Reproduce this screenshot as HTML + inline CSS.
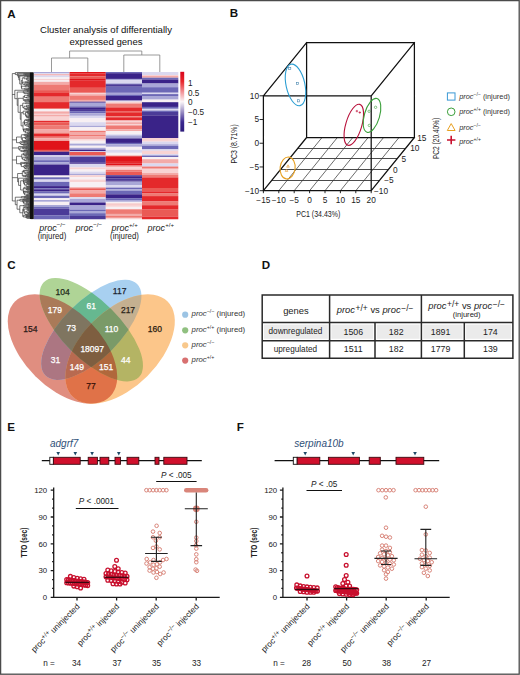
<!DOCTYPE html>
<html><head><meta charset="utf-8"><title>Figure</title>
<style>
html,body{margin:0;padding:0;background:#fff;}
body{width:520px;height:675px;overflow:hidden;}
svg{display:block;font-family:"Liberation Sans",sans-serif;}
</style></head><body>
<svg width="520" height="675" viewBox="0 0 520 675" font-family="Liberation Sans, sans-serif">
<rect width="520" height="675" fill="#fff"/>
<rect x="0.6" y="0.6" width="518.6" height="673.6" fill="none" stroke="#4a4a4a" stroke-width="1.3"/>
<text x="7.3" y="17.9" font-size="11.6" font-weight="bold" fill="#111">A</text>
<text x="229.8" y="17.3" font-size="11.6" font-weight="bold" fill="#111">B</text>
<text x="7.3" y="269.2" font-size="11.6" font-weight="bold" fill="#111">C</text>
<text x="261.8" y="269.0" font-size="11.6" font-weight="bold" fill="#111">D</text>
<text x="7.3" y="431.3" font-size="11.6" font-weight="bold" fill="#111">E</text>
<text x="236.8" y="431.3" font-size="11.6" font-weight="bold" fill="#111">F</text>
<text x="106" y="32.8" font-size="9.6" text-anchor="middle" fill="#111">Cluster analysis of differentially</text>
<text x="106" y="44.5" font-size="9.6" text-anchor="middle" fill="#111">expressed genes</text>
<path d="M69.6 58V51H141.8V55 M51.5 72V58H87.8V72 M123.8 72V55H159.8V72" stroke="#808080" stroke-width="0.8" fill="none"/>
<rect x="33.6" y="72.0" width="36.0" height="1.15" fill="#a9a7d7"/>
<rect x="33.6" y="73.1" width="36.0" height="1.15" fill="#dad8ef"/>
<rect x="33.6" y="74.2" width="36.0" height="1.35" fill="#f3aaa8"/>
<rect x="33.6" y="75.5" width="36.0" height="1.85" fill="#dad8ef"/>
<rect x="33.6" y="77.3" width="36.0" height="1.75" fill="#f7f0f3"/>
<rect x="33.6" y="79.0" width="36.0" height="1.45" fill="#f8d3d3"/>
<rect x="33.6" y="80.4" width="36.0" height="1.45" fill="#f7f0f3"/>
<rect x="33.6" y="81.8" width="36.0" height="2.75" fill="#f3aaa8"/>
<rect x="33.6" y="84.5" width="36.0" height="5.65" fill="#ee7a74"/>
<rect x="33.6" y="90.1" width="36.0" height="2.85" fill="#ea5a55"/>
<rect x="33.6" y="92.9" width="36.0" height="3.85" fill="#e4292b"/>
<rect x="33.6" y="96.7" width="36.0" height="5.45" fill="#ee7a74"/>
<rect x="33.6" y="102.1" width="36.0" height="5.95" fill="#e4292b"/>
<rect x="33.6" y="108.0" width="36.0" height="1.05" fill="#ee7a74"/>
<rect x="33.6" y="109.0" width="36.0" height="2.45" fill="#f7f0f3"/>
<rect x="33.6" y="111.4" width="36.0" height="2.45" fill="#f3aaa8"/>
<rect x="33.6" y="113.8" width="36.0" height="1.15" fill="#f8d3d3"/>
<rect x="33.6" y="114.9" width="36.0" height="1.75" fill="#f3aaa8"/>
<rect x="33.6" y="116.6" width="36.0" height="4.25" fill="#f8d3d3"/>
<rect x="33.6" y="120.8" width="36.0" height="1.45" fill="#e4292b"/>
<rect x="33.6" y="122.2" width="36.0" height="3.45" fill="#ea5a55"/>
<rect x="33.6" y="125.6" width="36.0" height="3.55" fill="#ee7a74"/>
<rect x="33.6" y="129.1" width="36.0" height="3.45" fill="#f3aaa8"/>
<rect x="33.6" y="132.5" width="36.0" height="1.45" fill="#ee7a74"/>
<rect x="33.6" y="133.9" width="36.0" height="2.85" fill="#e4292b"/>
<rect x="33.6" y="136.7" width="36.0" height="1.75" fill="#ee7a74"/>
<rect x="33.6" y="138.4" width="36.0" height="2.55" fill="#f3aaa8"/>
<rect x="33.6" y="140.9" width="36.0" height="9.05" fill="#e0141a"/>
<rect x="33.6" y="149.9" width="36.0" height="1.85" fill="#ea5a55"/>
<rect x="33.6" y="151.7" width="36.0" height="3.65" fill="#3a2388"/>
<rect x="33.6" y="155.3" width="36.0" height="1.45" fill="#dad8ef"/>
<rect x="33.6" y="156.7" width="36.0" height="3.55" fill="#a9a7d7"/>
<rect x="33.6" y="160.2" width="36.0" height="2.25" fill="#6c68b6"/>
<rect x="33.6" y="162.4" width="36.0" height="2.15" fill="#a9a7d7"/>
<rect x="33.6" y="164.5" width="36.0" height="11.05" fill="#3a2388"/>
<rect x="33.6" y="175.5" width="36.0" height="1.85" fill="#f7f0f3"/>
<rect x="33.6" y="177.3" width="36.0" height="2.25" fill="#6c68b6"/>
<rect x="33.6" y="179.5" width="36.0" height="2.45" fill="#dad8ef"/>
<rect x="33.6" y="181.9" width="36.0" height="4.25" fill="#6c68b6"/>
<rect x="33.6" y="186.1" width="36.0" height="2.25" fill="#3a2388"/>
<rect x="33.6" y="188.3" width="36.0" height="1.05" fill="#6c68b6"/>
<rect x="33.6" y="189.3" width="36.0" height="2.25" fill="#3a2388"/>
<rect x="33.6" y="191.5" width="36.0" height="2.15" fill="#6c68b6"/>
<rect x="33.6" y="193.6" width="36.0" height="2.15" fill="#dad8ef"/>
<rect x="33.6" y="195.7" width="36.0" height="2.55" fill="#6c68b6"/>
<rect x="33.6" y="198.2" width="36.0" height="1.85" fill="#f7f0f3"/>
<rect x="33.6" y="200.0" width="36.0" height="1.85" fill="#a9a7d7"/>
<rect x="33.6" y="201.8" width="36.0" height="3.25" fill="#f7f0f3"/>
<rect x="33.6" y="205.0" width="36.0" height="1.85" fill="#a9a7d7"/>
<rect x="33.6" y="206.8" width="36.0" height="1.85" fill="#6c68b6"/>
<rect x="33.6" y="208.6" width="36.0" height="6.75" fill="#4b3b98"/>
<rect x="33.6" y="215.3" width="36.0" height="3.95" fill="#6c68b6"/>
<rect x="69.6" y="72.0" width="36.2" height="1.65" fill="#e0141a"/>
<rect x="69.6" y="73.6" width="36.2" height="2.85" fill="#e4292b"/>
<rect x="69.6" y="76.4" width="36.2" height="2.55" fill="#ea5a55"/>
<rect x="69.6" y="78.9" width="36.2" height="1.85" fill="#e0141a"/>
<rect x="69.6" y="80.7" width="36.2" height="7.15" fill="#e4292b"/>
<rect x="69.6" y="87.8" width="36.2" height="5.05" fill="#ea5a55"/>
<rect x="69.6" y="92.8" width="36.2" height="1.45" fill="#f8d3d3"/>
<rect x="69.6" y="94.2" width="36.2" height="1.45" fill="#f3aaa8"/>
<rect x="69.6" y="95.6" width="36.2" height="4.35" fill="#ee7a74"/>
<rect x="69.6" y="99.9" width="36.2" height="1.85" fill="#f3aaa8"/>
<rect x="69.6" y="101.7" width="36.2" height="1.05" fill="#3a2388"/>
<rect x="69.6" y="102.7" width="36.2" height="3.65" fill="#a9a7d7"/>
<rect x="69.6" y="106.3" width="36.2" height="1.15" fill="#6c68b6"/>
<rect x="69.6" y="107.4" width="36.2" height="2.45" fill="#3a2388"/>
<rect x="69.6" y="109.8" width="36.2" height="1.45" fill="#4b3b98"/>
<rect x="69.6" y="111.2" width="36.2" height="2.15" fill="#6c68b6"/>
<rect x="69.6" y="113.3" width="36.2" height="2.55" fill="#a9a7d7"/>
<rect x="69.6" y="115.8" width="36.2" height="2.25" fill="#dad8ef"/>
<rect x="69.6" y="118.0" width="36.2" height="4.25" fill="#f7f0f3"/>
<rect x="69.6" y="122.2" width="36.2" height="3.65" fill="#dad8ef"/>
<rect x="69.6" y="125.8" width="36.2" height="1.45" fill="#a9a7d7"/>
<rect x="69.6" y="127.2" width="36.2" height="3.65" fill="#f7f0f3"/>
<rect x="69.6" y="130.8" width="36.2" height="1.85" fill="#ee7a74"/>
<rect x="69.6" y="132.6" width="36.2" height="2.45" fill="#f3aaa8"/>
<rect x="69.6" y="135.0" width="36.2" height="1.55" fill="#ee7a74"/>
<rect x="69.6" y="136.5" width="36.2" height="2.85" fill="#f3aaa8"/>
<rect x="69.6" y="139.3" width="36.2" height="1.45" fill="#f8d3d3"/>
<rect x="69.6" y="140.7" width="36.2" height="2.95" fill="#f7f0f3"/>
<rect x="69.6" y="143.6" width="36.2" height="2.15" fill="#a9a7d7"/>
<rect x="69.6" y="145.7" width="36.2" height="2.15" fill="#f7f0f3"/>
<rect x="69.6" y="147.8" width="36.2" height="1.85" fill="#a9a7d7"/>
<rect x="69.6" y="149.6" width="36.2" height="1.75" fill="#3a2388"/>
<rect x="69.6" y="151.3" width="36.2" height="0.75" fill="#dad8ef"/>
<rect x="69.6" y="152.0" width="36.2" height="3.65" fill="#ea5a55"/>
<rect x="69.6" y="155.6" width="36.2" height="1.15" fill="#a9a7d7"/>
<rect x="69.6" y="156.7" width="36.2" height="5.75" fill="#4b3b98"/>
<rect x="69.6" y="162.4" width="36.2" height="1.45" fill="#3a2388"/>
<rect x="69.6" y="163.8" width="36.2" height="3.65" fill="#dad8ef"/>
<rect x="69.6" y="167.4" width="36.2" height="2.15" fill="#f8d3d3"/>
<rect x="69.6" y="169.5" width="36.2" height="2.15" fill="#f7f0f3"/>
<rect x="69.6" y="171.6" width="36.2" height="2.25" fill="#dad8ef"/>
<rect x="69.6" y="173.8" width="36.2" height="1.45" fill="#a9a7d7"/>
<rect x="69.6" y="175.2" width="36.2" height="2.15" fill="#f8d3d3"/>
<rect x="69.6" y="177.3" width="36.2" height="2.25" fill="#f7f0f3"/>
<rect x="69.6" y="179.5" width="36.2" height="2.85" fill="#f8d3d3"/>
<rect x="69.6" y="182.3" width="36.2" height="4.95" fill="#f7f0f3"/>
<rect x="69.6" y="187.2" width="36.2" height="1.15" fill="#f3aaa8"/>
<rect x="69.6" y="188.3" width="36.2" height="2.15" fill="#ea5a55"/>
<rect x="69.6" y="190.4" width="36.2" height="2.95" fill="#f3aaa8"/>
<rect x="69.6" y="193.3" width="36.2" height="3.95" fill="#ee7a74"/>
<rect x="69.6" y="197.2" width="36.2" height="1.85" fill="#dad8ef"/>
<rect x="69.6" y="199.0" width="36.2" height="3.55" fill="#a9a7d7"/>
<rect x="69.6" y="202.5" width="36.2" height="2.95" fill="#3a2388"/>
<rect x="69.6" y="205.4" width="36.2" height="4.25" fill="#a9a7d7"/>
<rect x="69.6" y="209.6" width="36.2" height="1.45" fill="#6c68b6"/>
<rect x="69.6" y="211.0" width="36.2" height="2.25" fill="#a9a7d7"/>
<rect x="69.6" y="213.2" width="36.2" height="2.85" fill="#6c68b6"/>
<rect x="69.6" y="216.0" width="36.2" height="3.25" fill="#4b3b98"/>
<rect x="105.8" y="72.0" width="36.2" height="1.25" fill="#6c68b6"/>
<rect x="105.8" y="73.2" width="36.2" height="5.75" fill="#3a2388"/>
<rect x="105.8" y="78.9" width="36.2" height="1.45" fill="#a9a7d7"/>
<rect x="105.8" y="80.3" width="36.2" height="2.95" fill="#dad8ef"/>
<rect x="105.8" y="83.2" width="36.2" height="1.05" fill="#a9a7d7"/>
<rect x="105.8" y="84.2" width="36.2" height="2.55" fill="#4b3b98"/>
<rect x="105.8" y="86.7" width="36.2" height="6.15" fill="#6c68b6"/>
<rect x="105.8" y="92.8" width="36.2" height="1.85" fill="#a9a7d7"/>
<rect x="105.8" y="94.6" width="36.2" height="1.45" fill="#6c68b6"/>
<rect x="105.8" y="96.0" width="36.2" height="4.65" fill="#3a2388"/>
<rect x="105.8" y="100.6" width="36.2" height="1.15" fill="#dad8ef"/>
<rect x="105.8" y="101.7" width="36.2" height="1.85" fill="#f8d3d3"/>
<rect x="105.8" y="103.5" width="36.2" height="2.85" fill="#ee7a74"/>
<rect x="105.8" y="106.3" width="36.2" height="1.45" fill="#ea5a55"/>
<rect x="105.8" y="107.7" width="36.2" height="3.95" fill="#e4292b"/>
<rect x="105.8" y="111.6" width="36.2" height="1.45" fill="#ea5a55"/>
<rect x="105.8" y="113.0" width="36.2" height="3.25" fill="#e4292b"/>
<rect x="105.8" y="116.2" width="36.2" height="1.15" fill="#ee7a74"/>
<rect x="105.8" y="117.3" width="36.2" height="3.25" fill="#e4292b"/>
<rect x="105.8" y="120.5" width="36.2" height="1.75" fill="#f8d3d3"/>
<rect x="105.8" y="122.2" width="36.2" height="1.85" fill="#f3aaa8"/>
<rect x="105.8" y="124.0" width="36.2" height="1.45" fill="#f8d3d3"/>
<rect x="105.8" y="125.4" width="36.2" height="4.05" fill="#ee7a74"/>
<rect x="105.8" y="129.4" width="36.2" height="1.75" fill="#f3aaa8"/>
<rect x="105.8" y="131.1" width="36.2" height="3.25" fill="#f7f0f3"/>
<rect x="105.8" y="134.3" width="36.2" height="1.15" fill="#dad8ef"/>
<rect x="105.8" y="135.4" width="36.2" height="2.55" fill="#a9a7d7"/>
<rect x="105.8" y="137.9" width="36.2" height="0.75" fill="#6c68b6"/>
<rect x="105.8" y="138.6" width="36.2" height="4.35" fill="#3a2388"/>
<rect x="105.8" y="142.9" width="36.2" height="1.45" fill="#6c68b6"/>
<rect x="105.8" y="144.3" width="36.2" height="2.55" fill="#a9a7d7"/>
<rect x="105.8" y="146.8" width="36.2" height="3.15" fill="#f7f0f3"/>
<rect x="105.8" y="149.9" width="36.2" height="2.95" fill="#dad8ef"/>
<rect x="105.8" y="152.8" width="36.2" height="2.85" fill="#f7f0f3"/>
<rect x="105.8" y="155.6" width="36.2" height="0.75" fill="#ee7a74"/>
<rect x="105.8" y="156.3" width="36.2" height="4.75" fill="#e0141a"/>
<rect x="105.8" y="161.0" width="36.2" height="2.45" fill="#e4292b"/>
<rect x="105.8" y="163.4" width="36.2" height="2.25" fill="#e0141a"/>
<rect x="105.8" y="165.6" width="36.2" height="1.85" fill="#f3aaa8"/>
<rect x="105.8" y="167.4" width="36.2" height="2.45" fill="#f8d3d3"/>
<rect x="105.8" y="169.8" width="36.2" height="1.85" fill="#ee7a74"/>
<rect x="105.8" y="171.6" width="36.2" height="3.65" fill="#ea5a55"/>
<rect x="105.8" y="175.2" width="36.2" height="1.05" fill="#4b3b98"/>
<rect x="105.8" y="176.2" width="36.2" height="2.35" fill="#3a2388"/>
<rect x="105.8" y="178.5" width="36.2" height="1.85" fill="#4b3b98"/>
<rect x="105.8" y="180.3" width="36.2" height="1.35" fill="#3a2388"/>
<rect x="105.8" y="181.6" width="36.2" height="3.55" fill="#a9a7d7"/>
<rect x="105.8" y="185.1" width="36.2" height="2.55" fill="#dad8ef"/>
<rect x="105.8" y="187.6" width="36.2" height="1.75" fill="#6c68b6"/>
<rect x="105.8" y="189.3" width="36.2" height="1.55" fill="#a9a7d7"/>
<rect x="105.8" y="190.8" width="36.2" height="3.55" fill="#6c68b6"/>
<rect x="105.8" y="194.3" width="36.2" height="3.95" fill="#3a2388"/>
<rect x="105.8" y="198.2" width="36.2" height="1.85" fill="#6c68b6"/>
<rect x="105.8" y="200.0" width="36.2" height="1.85" fill="#a9a7d7"/>
<rect x="105.8" y="201.8" width="36.2" height="1.85" fill="#f7f0f3"/>
<rect x="105.8" y="203.6" width="36.2" height="1.05" fill="#f3aaa8"/>
<rect x="105.8" y="204.6" width="36.2" height="2.25" fill="#f8d3d3"/>
<rect x="105.8" y="206.8" width="36.2" height="2.55" fill="#f7f0f3"/>
<rect x="105.8" y="209.3" width="36.2" height="4.65" fill="#ee7a74"/>
<rect x="105.8" y="213.9" width="36.2" height="2.15" fill="#f3aaa8"/>
<rect x="105.8" y="216.0" width="36.2" height="1.85" fill="#ee7a74"/>
<rect x="105.8" y="217.8" width="36.2" height="1.45" fill="#f8d3d3"/>
<rect x="142.0" y="72.0" width="36.3" height="3.15" fill="#dad8ef"/>
<rect x="142.0" y="75.1" width="36.3" height="0.75" fill="#f8d3d3"/>
<rect x="142.0" y="75.8" width="36.3" height="1.95" fill="#f3aaa8"/>
<rect x="142.0" y="77.7" width="36.3" height="1.85" fill="#6c68b6"/>
<rect x="142.0" y="79.5" width="36.3" height="4.05" fill="#3a2388"/>
<rect x="142.0" y="83.5" width="36.3" height="3.75" fill="#a9a7d7"/>
<rect x="142.0" y="87.2" width="36.3" height="5.55" fill="#6c68b6"/>
<rect x="142.0" y="92.7" width="36.3" height="1.45" fill="#dad8ef"/>
<rect x="142.0" y="94.1" width="36.3" height="1.95" fill="#6c68b6"/>
<rect x="142.0" y="96.0" width="36.3" height="3.65" fill="#a9a7d7"/>
<rect x="142.0" y="99.6" width="36.3" height="2.65" fill="#f7f0f3"/>
<rect x="142.0" y="102.2" width="36.3" height="4.75" fill="#3a2388"/>
<rect x="142.0" y="106.9" width="36.3" height="1.85" fill="#6c68b6"/>
<rect x="142.0" y="108.7" width="36.3" height="0.45" fill="#a9a7d7"/>
<rect x="142.0" y="109.1" width="36.3" height="1.55" fill="#dad8ef"/>
<rect x="142.0" y="110.6" width="36.3" height="1.45" fill="#6c68b6"/>
<rect x="142.0" y="112.0" width="36.3" height="3.35" fill="#4b3b98"/>
<rect x="142.0" y="115.3" width="36.3" height="22.75" fill="#3a2388"/>
<rect x="142.0" y="138.0" width="36.3" height="3.65" fill="#f8d3d3"/>
<rect x="142.0" y="141.6" width="36.3" height="2.65" fill="#dad8ef"/>
<rect x="142.0" y="144.2" width="36.3" height="1.85" fill="#a9a7d7"/>
<rect x="142.0" y="146.0" width="36.3" height="3.35" fill="#6c68b6"/>
<rect x="142.0" y="149.3" width="36.3" height="1.55" fill="#dad8ef"/>
<rect x="142.0" y="150.8" width="36.3" height="3.25" fill="#f8d3d3"/>
<rect x="142.0" y="154.0" width="36.3" height="1.55" fill="#dad8ef"/>
<rect x="142.0" y="155.5" width="36.3" height="1.55" fill="#6c68b6"/>
<rect x="142.0" y="157.0" width="36.3" height="2.25" fill="#f7f0f3"/>
<rect x="142.0" y="159.2" width="36.3" height="4.35" fill="#f3aaa8"/>
<rect x="142.0" y="163.5" width="36.3" height="3.05" fill="#dad8ef"/>
<rect x="142.0" y="166.5" width="36.3" height="2.25" fill="#ee7a74"/>
<rect x="142.0" y="168.7" width="36.3" height="4.35" fill="#f8d3d3"/>
<rect x="142.0" y="173.0" width="36.3" height="1.95" fill="#f3aaa8"/>
<rect x="142.0" y="174.9" width="36.3" height="2.55" fill="#ee7a74"/>
<rect x="142.0" y="177.4" width="36.3" height="10.65" fill="#e4292b"/>
<rect x="142.0" y="188.0" width="36.3" height="3.35" fill="#ea5a55"/>
<rect x="142.0" y="191.3" width="36.3" height="2.25" fill="#e4292b"/>
<rect x="142.0" y="193.5" width="36.3" height="2.65" fill="#ee7a74"/>
<rect x="142.0" y="196.1" width="36.3" height="5.45" fill="#e4292b"/>
<rect x="142.0" y="201.5" width="36.3" height="3.75" fill="#ee7a74"/>
<rect x="142.0" y="205.2" width="36.3" height="4.45" fill="#e4292b"/>
<rect x="142.0" y="209.6" width="36.3" height="6.95" fill="#ea5a55"/>
<rect x="142.0" y="216.5" width="36.3" height="2.75" fill="#e4292b"/>
<path d="M33.30 74.30H25.34V74.87H33.30 M33.30 73.73H23.69V74.58H25.34 M33.30 76.58H26.98V77.15H33.30 M33.30 77.72H30.39V78.30H33.30 M33.30 79.44H30.60V80.01H33.30 M33.30 80.58H29.87V81.15H33.30 M30.60 79.72H28.64V80.86H29.87 M33.30 78.87H26.97V80.29H28.64 M30.39 78.01H26.81V79.58H26.97 M26.98 76.87H24.07V78.79H26.81 M33.30 82.29H26.98V82.86H33.30 M33.30 81.72H25.20V82.58H26.98 M33.30 83.43H28.96V84.00H33.30 M33.30 84.58H26.24V85.15H33.30 M28.96 83.72H24.25V84.86H26.24 M25.20 82.15H22.74V84.29H24.25 M24.07 77.83H22.30V83.22H22.74 M33.30 86.86H29.27V87.43H33.30 M33.30 86.29H28.48V87.15H29.27 M33.30 85.72H25.13V86.72H28.48 M33.30 88.00H28.37V88.57H33.30 M33.30 89.14H26.63V89.71H33.30 M28.37 88.29H24.64V89.43H26.63 M25.13 86.22H21.59V88.86H24.64 M22.30 80.53H21.30V87.54H21.59 M33.30 76.01H19.76V84.03H21.30 M33.30 75.44H18.93V80.02H19.76 M23.69 74.16H18.40V77.73H18.93 M33.30 73.16H17.38V75.94H18.40 M33.30 72.59H15.30V74.55H17.38 M12.3 73.57H15.3 M33.30 90.85H27.09V91.41H33.30 M33.30 91.97H29.64V92.54H33.30 M33.30 93.67H29.14V94.23H33.30 M33.30 93.10H27.86V93.95H29.14 M29.64 92.26H24.31V93.53H27.86 M27.09 91.13H23.30V92.89H24.31 M33.30 95.92H29.46V96.49H33.30 M33.30 95.36H27.96V96.21H29.46 M33.30 94.79H27.33V95.78H27.96 M33.30 98.18H30.62V98.74H33.30 M33.30 97.62H29.85V98.46H30.62 M33.30 97.05H26.51V98.04H29.85 M27.33 95.29H24.56V97.54H26.51 M33.30 99.31H27.67V99.87H33.30 M33.30 101.56H29.39V102.13H33.30 M33.30 101.00H29.19V101.85H29.39 M33.30 100.44H25.11V101.42H29.19 M27.67 99.59H24.13V100.93H25.11 M24.56 96.42H23.27V100.26H24.13 M33.30 103.82H30.25V104.38H33.30 M33.30 103.26H29.27V104.10H30.25 M33.30 102.69H25.68V103.68H29.27 M33.30 105.51H31.24V106.08H33.30 M33.30 104.95H28.86V105.79H31.24 M33.30 107.21H29.31V107.77H33.30 M33.30 106.64H27.45V107.49H29.31 M28.86 105.37H26.51V107.06H27.45 M33.30 110.03H29.51V110.59H33.30 M33.30 109.46H28.09V110.31H29.51 M33.30 108.90H26.58V109.88H28.09 M33.30 108.33H25.06V109.39H26.58 M26.51 106.22H24.02V108.86H25.06 M25.68 103.19H22.72V107.54H24.02 M33.30 113.41H29.05V113.97H33.30 M33.30 112.85H28.22V113.69H29.05 M33.30 112.28H27.32V113.27H28.22 M33.30 111.72H26.87V112.78H27.32 M33.30 115.10H29.23V115.67H33.30 M33.30 114.54H28.69V115.38H29.23 M33.30 117.92H30.25V118.49H33.30 M33.30 117.36H28.52V118.21H30.25 M33.30 116.79H27.39V117.78H28.52 M33.30 116.23H26.36V117.29H27.39 M28.69 114.96H26.19V116.76H26.36 M26.87 112.25H25.53V115.86H26.19 M33.30 111.15H23.15V114.05H25.53 M33.30 119.05H28.60V119.62H33.30 M33.30 120.74H28.04V121.31H33.30 M33.30 120.18H26.90V121.03H28.04 M28.60 119.33H25.81V120.60H26.90 M33.30 121.87H30.21V122.44H33.30 M33.30 123.00H29.20V123.56H33.30 M30.21 122.15H26.98V123.28H29.20 M33.30 124.13H29.32V124.69H33.30 M33.30 125.82H29.71V126.38H33.30 M33.30 127.51H31.80V128.08H33.30 M33.30 126.95H29.49V127.79H31.80 M29.71 126.10H28.71V127.37H29.49 M33.30 125.26H27.89V126.74H28.71 M29.32 124.41H25.91V126.00H27.89 M26.98 122.72H24.62V125.20H25.91 M25.81 119.97H24.54V123.96H24.62 M33.30 128.64H26.05V129.21H33.30 M33.30 130.90H30.14V131.46H33.30 M33.30 130.33H27.88V131.18H30.14 M33.30 132.03H29.64V132.59H33.30 M33.30 133.15H28.20V133.72H33.30 M29.64 132.31H27.30V133.44H28.20 M27.88 130.76H25.59V132.87H27.30 M33.30 129.77H23.89V131.81H25.59 M26.05 128.92H23.51V130.79H23.89 M24.54 121.96H23.04V129.86H23.51 M23.15 112.60H21.11V125.91H23.04 M22.72 105.36H20.28V119.26H21.11 M23.27 98.34H18.09V112.31H20.28 M23.30 92.01H17.21V105.32H18.09 M33.30 90.28H14.80V98.67H17.21 M12.3 94.47H14.8 M33.30 135.43H26.95V136.00H33.30 M33.30 134.86H25.15V135.71H26.95 M33.30 134.29H24.14V135.29H25.15 M33.30 136.57H26.31V137.14H33.30 M33.30 138.29H29.11V138.86H33.30 M33.30 139.43H27.72V140.00H33.30 M29.11 138.57H26.66V139.71H27.72 M33.30 137.71H25.49V139.14H26.66 M26.31 136.86H24.93V138.43H25.49 M33.30 140.57H23.35V141.14H33.30 M24.93 137.64H22.36V140.86H23.35 M24.14 134.79H21.33V139.25H22.36 M33.30 142.86H26.91V143.43H33.30 M33.30 142.29H24.02V143.14H26.91 M33.30 145.14H28.01V145.71H33.30 M33.30 144.57H23.47V145.43H28.01 M33.30 144.00H22.66V145.00H23.47 M24.02 142.71H20.98V144.50H22.66 M33.30 141.71H20.03V143.61H20.98 M21.33 137.02H16.50V142.66H20.03 M12.3 139.84H16.5 M33.30 146.27H26.38V146.81H33.30 M33.30 148.98H28.26V149.52H33.30 M33.30 148.44H25.80V149.25H28.26 M33.30 147.90H23.28V148.84H25.80 M33.30 147.35H22.40V148.37H23.28 M33.30 150.06H24.04V150.60H33.30 M33.30 151.69H27.05V152.23H33.30 M33.30 151.15H23.70V151.96H27.05 M24.04 150.33H21.52V151.55H23.70 M22.40 147.86H19.97V150.94H21.52 M26.38 146.54H18.70V149.40H19.97 M12.3 147.97H18.7 M33.30 153.35H27.74V153.91H33.30 M33.30 152.78H26.13V153.63H27.74 M33.30 155.60H28.35V156.17H33.30 M33.30 155.04H25.94V155.89H28.35 M33.30 154.48H24.17V155.46H25.94 M26.13 153.21H23.48V154.97H24.17 M33.30 157.30H26.96V157.86H33.30 M33.30 156.73H25.07V157.58H26.96 M33.30 158.99H28.30V159.56H33.30 M33.30 158.43H26.57V159.27H28.30 M33.30 161.25H30.94V161.81H33.30 M33.30 160.69H28.28V161.53H30.94 M33.30 160.12H25.76V161.11H28.28 M26.57 158.85H24.41V160.61H25.76 M25.07 157.16H22.76V159.73H24.41 M23.48 154.09H21.79V158.45H22.76 M33.30 164.07H29.41V164.64H33.30 M33.30 163.51H26.04V164.35H29.41 M33.30 162.94H24.15V163.93H26.04 M33.30 165.20H25.29V165.77H33.30 M33.30 166.90H29.44V167.46H33.30 M33.30 166.33H25.87V167.18H29.44 M33.30 169.15H30.31V169.72H33.30 M33.30 168.59H28.30V169.44H30.31 M33.30 168.02H25.71V169.01H28.30 M25.87 166.75H24.67V168.52H25.71 M25.29 165.48H23.92V167.64H24.67 M24.15 163.44H21.33V166.56H23.92 M33.30 162.38H20.70V165.00H21.33 M21.79 156.27H16.50V163.69H20.70 M12.3 159.98H16.5 M33.30 171.41H29.21V171.98H33.30 M33.30 172.54H28.32V173.11H33.30 M29.21 171.70H27.66V172.83H28.32 M33.30 174.24H28.37V174.80H33.30 M33.30 173.67H26.70V174.52H28.37 M27.66 172.26H25.69V174.10H26.70 M33.30 170.85H24.23V173.18H25.69 M33.30 170.28H23.50V172.01H24.23 M33.30 177.07H28.79V177.63H33.30 M33.30 176.50H27.33V177.35H28.79 M33.30 175.93H25.33V176.92H27.33 M33.30 175.37H23.25V176.43H25.33 M23.50 171.15H22.34V175.90H23.25 M33.30 179.33H27.61V179.89H33.30 M33.30 178.76H25.83V179.61H27.61 M33.30 181.02H27.44V181.59H33.30 M33.30 180.46H24.59V181.30H27.44 M33.30 182.15H26.24V182.72H33.30 M33.30 184.98H30.96V185.54H33.30 M33.30 184.41H28.81V185.26H30.96 M33.30 183.85H27.91V184.84H28.81 M33.30 183.28H27.54V184.34H27.91 M33.30 186.11H27.29V186.67H33.30 M27.54 183.81H26.22V186.39H27.29 M26.24 182.43H24.52V185.10H26.22 M24.59 180.88H23.68V183.77H24.52 M25.83 179.18H23.43V182.32H23.68 M33.30 187.80H27.21V188.37H33.30 M33.30 190.07H30.62V190.63H33.30 M33.30 189.50H27.61V190.35H30.62 M33.30 188.93H26.73V189.92H27.61 M27.21 188.09H26.09V189.43H26.73 M33.30 187.24H24.26V188.76H26.09 M33.30 193.46H29.56V194.02H33.30 M33.30 192.89H29.13V193.74H29.56 M33.30 192.33H27.63V193.32H29.13 M33.30 195.15H26.79V195.72H33.30 M33.30 194.59H26.60V195.43H26.79 M27.63 192.82H24.69V195.01H26.60 M33.30 191.76H23.86V193.92H24.69 M33.30 191.20H23.65V192.84H23.86 M24.26 188.00H23.35V192.02H23.65 M23.43 180.75H20.63V190.01H23.35 M33.30 178.20H18.56V185.38H20.63 M22.34 173.52H17.60V181.79H18.56 M12.3 177.66H17.6 M33.30 196.28H24.66V196.84H33.30 M33.30 197.96H26.66V198.52H33.30 M33.30 197.40H24.35V198.24H26.66 M24.66 196.56H21.40V197.82H24.35 M33.30 199.09H23.02V199.65H33.30 M33.30 202.45H29.64V203.01H33.30 M33.30 201.89H26.85V202.73H29.64 M33.30 201.33H26.06V202.31H26.85 M33.30 204.13H28.03V204.70H33.30 M33.30 203.57H25.79V204.41H28.03 M26.06 201.82H23.98V203.99H25.79 M33.30 200.77H23.51V202.91H23.98 M33.30 200.21H22.35V201.84H23.51 M23.02 199.37H19.91V201.02H22.35 M33.30 205.82H28.48V206.38H33.30 M33.30 205.26H23.42V206.10H28.48 M33.30 207.50H26.82V208.06H33.30 M33.30 206.94H24.57V207.78H26.82 M33.30 209.18H28.21V209.74H33.30 M33.30 208.62H26.75V209.46H28.21 M33.30 210.87H29.29V211.43H33.30 M33.30 210.30H28.11V211.15H29.29 M33.30 211.99H28.94V212.55H33.30 M33.30 213.11H28.49V213.67H33.30 M28.94 212.27H27.67V213.39H28.49 M28.11 210.73H26.85V212.83H27.67 M33.30 214.23H26.10V214.79H33.30 M26.85 211.78H24.93V214.51H26.10 M26.75 209.04H24.19V213.14H24.93 M24.57 207.36H23.39V211.09H24.19 M33.30 215.35H26.63V215.91H33.30 M33.30 218.16H30.66V218.72H33.30 M33.30 217.60H27.54V218.44H30.66 M33.30 217.04H26.18V218.02H27.54 M33.30 216.48H25.96V217.53H26.18 M26.63 215.63H23.28V217.00H25.96 M23.39 209.23H22.76V216.32H23.28 M23.42 205.68H19.81V212.77H22.76 M19.91 200.19H17.07V209.22H19.81 M21.40 197.19H15.30V204.71H17.07 M12.3 200.95H15.3 M12.3 73.57V200.95" stroke="#1e1e1e" stroke-width="0.6" fill="none"/>
<rect x="29.9" y="72.6" width="3.7" height="146.4" fill="#111"/>
<defs><linearGradient id="cb" x1="0" y1="0" x2="0" y2="1"><stop offset="0" stop-color="#d8041c"/><stop offset="0.16" stop-color="#e8262b"/><stop offset="0.5" stop-color="#fbf6f8"/><stop offset="0.84" stop-color="#3b2890"/><stop offset="1" stop-color="#2c1a7a"/></linearGradient></defs>
<rect x="180.3" y="71.8" width="3.9" height="59.8" fill="url(#cb)"/>
<text x="188" y="85.9" font-size="8.2" fill="#222">1</text>
<text x="188" y="95.5" font-size="8.2" fill="#222">0.5</text>
<text x="188" y="105.1" font-size="8.2" fill="#222">0</text>
<text x="188" y="115.1" font-size="8.2" fill="#222">−0.5</text>
<text x="188" y="125.2" font-size="8.2" fill="#222">−1</text>
<text x="52.4" y="230.9" font-size="9.0" text-anchor="middle" fill="#222"><tspan font-style="italic">proc</tspan><tspan font-size="6.12" dy="-3.42">−/−</tspan><tspan dy="3.42"></tspan></text>
<text x="88.8" y="230.9" font-size="9.0" text-anchor="middle" fill="#222"><tspan font-style="italic">proc</tspan><tspan font-size="6.12" dy="-3.42">−/−</tspan><tspan dy="3.42"></tspan></text>
<text x="124.6" y="230.9" font-size="9.0" text-anchor="middle" fill="#222"><tspan font-style="italic">proc</tspan><tspan font-size="6.12" dy="-3.42">+/+</tspan><tspan dy="3.42"></tspan></text>
<text x="160.8" y="230.9" font-size="9.0" text-anchor="middle" fill="#222"><tspan font-style="italic">proc</tspan><tspan font-size="6.12" dy="-3.42">+/+</tspan><tspan dy="3.42"></tspan></text>
<text x="52" y="239.2" font-size="8.6" text-anchor="middle" fill="#222" textLength="28.6" lengthAdjust="spacingAndGlyphs">(injured)</text>
<text x="124.5" y="239.2" font-size="8.6" text-anchor="middle" fill="#222" textLength="28.8" lengthAdjust="spacingAndGlyphs">(injured)</text>
<path d="M272.04 180.50H379.84 M280.68 169.50H388.48 M289.32 158.50H397.12 M297.96 148.50H405.76" stroke="#4a4a4a" stroke-width="1" fill="none" shape-rendering="crispEdges"/>
<path d="M278.80 190.70L322.00 137.50 M294.20 190.70L337.40 137.50 M309.60 190.70L352.80 137.50 M325.00 190.70L368.20 137.50 M340.40 190.70L383.60 137.50 M355.80 190.70L399.00 137.50" stroke="#3a3a3a" stroke-width="0.75" fill="none"/>
<path d="M263.40 95.80L371.20 95.80 M263.40 190.70L371.20 190.70 M263.40 95.80L263.40 190.70 M371.20 95.80L371.20 190.70 M306.60 42.60L414.40 42.60 M306.60 137.50L414.40 137.50 M306.60 42.60L306.60 137.50 M414.40 42.60L414.40 137.50 M263.40 95.80L306.60 42.60 M371.20 95.80L414.40 42.60 M263.40 190.70L306.60 137.50 M371.20 190.70L414.40 137.50" stroke="#111" stroke-width="1.25" fill="none" stroke-linecap="square"/>
<text x="259.0" y="98.7" font-size="8.3" text-anchor="end" fill="#222">10</text>
<text x="259.0" y="122.4" font-size="8.3" text-anchor="end" fill="#222">5</text>
<text x="259.0" y="146.1" font-size="8.3" text-anchor="end" fill="#222">0</text>
<text x="259.0" y="169.9" font-size="8.3" text-anchor="end" fill="#222">−5</text>
<text x="259.0" y="193.6" font-size="8.3" text-anchor="end" fill="#222">−10</text>
<text x="263.4" y="203.3" font-size="8.3" text-anchor="middle" fill="#222">−15</text>
<text x="278.8" y="203.3" font-size="8.3" text-anchor="middle" fill="#222">−10</text>
<text x="294.2" y="203.3" font-size="8.3" text-anchor="middle" fill="#222">−5</text>
<text x="309.6" y="203.3" font-size="8.3" text-anchor="middle" fill="#222">0</text>
<text x="325.0" y="203.3" font-size="8.3" text-anchor="middle" fill="#222">5</text>
<text x="340.4" y="203.3" font-size="8.3" text-anchor="middle" fill="#222">10</text>
<text x="355.8" y="203.3" font-size="8.3" text-anchor="middle" fill="#222">15</text>
<text x="371.2" y="203.3" font-size="8.3" text-anchor="middle" fill="#222">20</text>
<text x="374.0" y="194.0" font-size="8.3" fill="#222">−10</text>
<text x="384.2" y="183.4" font-size="8.3" fill="#222">−5</text>
<text x="392.9" y="172.7" font-size="8.3" fill="#222">0</text>
<text x="401.5" y="162.1" font-size="8.3" fill="#222">5</text>
<text x="410.2" y="151.4" font-size="8.3" fill="#222">10</text>
<text x="417.2" y="140.8" font-size="8.3" fill="#222">15</text>
<path d="M259.6 95.80H263.4 M259.6 119.52H263.4 M259.6 143.24H263.4 M259.6 166.96H263.4 M259.6 190.68H263.4 M263.40 190.7V193.2 M278.80 190.7V193.2 M294.20 190.7V193.2 M309.60 190.7V193.2 M325.00 190.7V193.2 M340.40 190.7V193.2 M355.80 190.7V193.2 M371.20 190.7V193.2" stroke="#111" stroke-width="0.9" fill="none"/>
<text x="318.3" y="216.8" font-size="9" text-anchor="middle" fill="#222" textLength="44" lengthAdjust="spacingAndGlyphs">PC1 (34.43%)</text>
<text transform="translate(237.4 143.9) rotate(-90)" x="0" y="0" font-size="8.6" text-anchor="middle" fill="#222" textLength="39.3" lengthAdjust="spacingAndGlyphs">PC3 (8.71%)</text>
<text transform="translate(439.2 138.4) rotate(-90)" x="0" y="0" font-size="8.6" text-anchor="middle" fill="#222" textLength="41.3" lengthAdjust="spacingAndGlyphs">PC2 (20.40%)</text>
<ellipse cx="295.5" cy="84.9" rx="9.4" ry="21.2" transform="rotate(-12.4 295.5 84.9)" fill="none" stroke="#2e9fd3" stroke-width="1.1"/>
<ellipse cx="353.8" cy="124.8" rx="8.0" ry="21.3" transform="rotate(16.4 353.8 124.8)" fill="none" stroke="#b8103a" stroke-width="1.1"/>
<ellipse cx="372.0" cy="115.4" rx="7.6" ry="17.6" transform="rotate(16.5 372.0 115.4)" fill="none" stroke="#3a9f3a" stroke-width="1.1"/>
<ellipse cx="287.6" cy="168.0" rx="7.5" ry="11.0" transform="rotate(7 287.6 168.0)" fill="none" stroke="#e8a020" stroke-width="1.1"/>
<rect x="288.6" y="67.3" width="2.2" height="2.2" fill="none" stroke="#4a88b0" stroke-width="0.6"/>
<rect x="296.4" y="82.4" width="2.2" height="2.2" fill="none" stroke="#4a88b0" stroke-width="0.6"/>
<rect x="297.3" y="99.7" width="2.2" height="2.2" fill="none" stroke="#4a88b0" stroke-width="0.6"/>
<path d="M355.7 111.1h2.4M356.9 109.9v2.4" stroke="#c0103a" stroke-width="0.7"/>
<path d="M358.6 112.5h2.4M359.8 111.3v2.4" stroke="#c0103a" stroke-width="0.7"/>
<circle cx="375.6" cy="107.3" r="1.2" fill="none" stroke="#3a9f3a" stroke-width="0.6"/>
<circle cx="369.1" cy="111.3" r="1.2" fill="none" stroke="#3a9f3a" stroke-width="0.6"/>
<circle cx="369.3" cy="125.4" r="1.2" fill="none" stroke="#3a9f3a" stroke-width="0.6"/>
<path d="M288 164.8L289.3 167.2H286.7Z" fill="none" stroke="#e09020" stroke-width="0.6"/>
<path d="M286.5 169.0L287.8 171.4H285.2Z" fill="none" stroke="#e09020" stroke-width="0.6"/>
<rect x="447.4" y="92.9" width="7.6" height="7.2" fill="none" stroke="#3a98d4" stroke-width="1"/>
<circle cx="451.2" cy="111.8" r="3.8" fill="none" stroke="#3a9f3a" stroke-width="1"/>
<path d="M451.2 123.6L455.1 130.5H447.3Z" fill="none" stroke="#e8a020" stroke-width="1"/>
<path d="M447 140H455.4M451.2 135.8V144.2" stroke="#c8102e" stroke-width="1.6"/>
<text x="459.2" y="99.0" font-size="7.4" fill="#333"><tspan font-style="italic">proc</tspan><tspan font-size="5.03" dy="-2.96">−/−</tspan><tspan dy="2.96"> (injured)</tspan></text>
<text x="459.2" y="114.4" font-size="7.4" fill="#333"><tspan font-style="italic">proc</tspan><tspan font-size="5.03" dy="-2.96">+/+</tspan><tspan dy="2.96"> (injured)</tspan></text>
<text x="459.2" y="129.8" font-size="7.4" fill="#333"><tspan font-style="italic">proc</tspan><tspan font-size="5.03" dy="-2.96">−/−</tspan><tspan dy="2.96"></tspan></text>
<text x="459.2" y="143.6" font-size="7.4" fill="#333"><tspan font-style="italic">proc</tspan><tspan font-size="5.03" dy="-2.96">+/+</tspan><tspan dy="2.96"></tspan></text>
<defs><clipPath id="clR"><ellipse cx="62.5" cy="349.0" rx="67.2" ry="38.4" transform="rotate(45 62.5 349.0)" /></clipPath><clipPath id="clO"><ellipse cx="120.1" cy="349.0" rx="67.2" ry="38.4" transform="rotate(-45 120.1 349.0)" /></clipPath><clipPath id="clG"><ellipse cx="91.3" cy="329.8" rx="67.2" ry="28.8" transform="rotate(45 91.3 329.8)" /></clipPath><clipPath id="clB"><ellipse cx="91.3" cy="329.8" rx="64.8" ry="28.8" transform="rotate(-45 91.3 329.8)" /></clipPath></defs>
<ellipse cx="62.5" cy="349.0" rx="67.2" ry="38.4" transform="rotate(45 62.5 349.0)" fill="#e08e80"/>
<ellipse cx="91.3" cy="329.8" rx="67.2" ry="28.8" transform="rotate(45 91.3 329.8)" fill="#afd496"/>
<ellipse cx="91.3" cy="329.8" rx="64.8" ry="28.8" transform="rotate(-45 91.3 329.8)" fill="#a8d0f0"/>
<ellipse cx="120.1" cy="349.0" rx="67.2" ry="38.4" transform="rotate(-45 120.1 349.0)" fill="#fcc68a"/>
<g clip-path="url(#clR)"><ellipse cx="91.3" cy="329.8" rx="67.2" ry="28.8" transform="rotate(45 91.3 329.8)" fill="#aa7a58"/></g>
<g clip-path="url(#clR)"><ellipse cx="91.3" cy="329.8" rx="64.8" ry="28.8" transform="rotate(-45 91.3 329.8)" fill="#ac7682"/></g>
<g clip-path="url(#clR)"><ellipse cx="120.1" cy="349.0" rx="67.2" ry="38.4" transform="rotate(-45 120.1 349.0)" fill="#e07248"/></g>
<g clip-path="url(#clG)"><ellipse cx="91.3" cy="329.8" rx="64.8" ry="28.8" transform="rotate(-45 91.3 329.8)" fill="#66b890"/></g>
<g clip-path="url(#clG)"><ellipse cx="120.1" cy="349.0" rx="67.2" ry="38.4" transform="rotate(-45 120.1 349.0)" fill="#b4b464"/></g>
<g clip-path="url(#clB)"><ellipse cx="120.1" cy="349.0" rx="67.2" ry="38.4" transform="rotate(-45 120.1 349.0)" fill="#c4b090"/></g>
<g clip-path="url(#clG)"><g clip-path="url(#clR)"><ellipse cx="91.3" cy="329.8" rx="64.8" ry="28.8" transform="rotate(-45 91.3 329.8)" fill="#7f7560"/></g></g>
<g clip-path="url(#clG)"><g clip-path="url(#clR)"><ellipse cx="120.1" cy="349.0" rx="67.2" ry="38.4" transform="rotate(-45 120.1 349.0)" fill="#b0683c"/></g></g>
<g clip-path="url(#clB)"><g clip-path="url(#clR)"><ellipse cx="120.1" cy="349.0" rx="67.2" ry="38.4" transform="rotate(-45 120.1 349.0)" fill="#b86a50"/></g></g>
<g clip-path="url(#clB)"><g clip-path="url(#clG)"><ellipse cx="120.1" cy="349.0" rx="67.2" ry="38.4" transform="rotate(-45 120.1 349.0)" fill="#7a9a68"/></g></g>
<g clip-path="url(#clB)"><g clip-path="url(#clG)"><g clip-path="url(#clR)"><ellipse cx="120.1" cy="349.0" rx="67.2" ry="38.4" transform="rotate(-45 120.1 349.0)" fill="#7e5e40"/></g></g></g>
<text x="30.3" y="331.5" font-size="8.5" text-anchor="middle" fill="#2a1a18" stroke="#2a1a18" stroke-width="0.25">154</text>
<text x="62.6" y="294.5" font-size="8.5" text-anchor="middle" fill="#1e2a18" stroke="#1e2a18" stroke-width="0.25">104</text>
<text x="119.6" y="294.0" font-size="8.5" text-anchor="middle" fill="#1a2430" stroke="#1a2430" stroke-width="0.25">117</text>
<text x="154.8" y="331.5" font-size="8.5" text-anchor="middle" fill="#2a2010" stroke="#2a2010" stroke-width="0.25">160</text>
<text x="54.9" y="313.0" font-size="8.5" text-anchor="middle" fill="#fff" stroke="#fff" stroke-width="0.25">179</text>
<text x="91.2" y="309.1" font-size="8.5" text-anchor="middle" fill="#fff" stroke="#fff" stroke-width="0.25">61</text>
<text x="128.0" y="313.3" font-size="8.5" text-anchor="middle" fill="#2a2418" stroke="#2a2418" stroke-width="0.25">217</text>
<text x="71.2" y="331.1" font-size="8.5" text-anchor="middle" fill="#fff" stroke="#fff" stroke-width="0.25">73</text>
<text x="111.5" y="331.7" font-size="8.5" text-anchor="middle" fill="#fff" stroke="#fff" stroke-width="0.25">110</text>
<text x="92.2" y="352.3" font-size="8.5" text-anchor="middle" fill="#fff" stroke="#fff" stroke-width="0.25">18097</text>
<text x="55.6" y="362.5" font-size="8.5" text-anchor="middle" fill="#fff" stroke="#fff" stroke-width="0.25">31</text>
<text x="125.8" y="362.7" font-size="8.5" text-anchor="middle" fill="#fff" stroke="#fff" stroke-width="0.25">44</text>
<text x="76.8" y="370.4" font-size="8.5" text-anchor="middle" fill="#fff" stroke="#fff" stroke-width="0.25">149</text>
<text x="106.2" y="370.4" font-size="8.5" text-anchor="middle" fill="#fff" stroke="#fff" stroke-width="0.25">151</text>
<text x="91.0" y="388.8" font-size="8.5" text-anchor="middle" fill="#3a1208" stroke="#3a1208" stroke-width="0.25">77</text>
<circle cx="185.2" cy="314.7" r="3.1" fill="#9cc4e4"/>
<text x="191.6" y="316.2" font-size="7.8" fill="#333"><tspan font-style="italic">proc</tspan><tspan font-size="5.30" dy="-3.12">−/−</tspan><tspan dy="3.12"> (injured)</tspan></text>
<circle cx="185.2" cy="330.3" r="3.1" fill="#90c080"/>
<text x="191.6" y="331.8" font-size="7.8" fill="#333"><tspan font-style="italic">proc</tspan><tspan font-size="5.30" dy="-3.12">+/+</tspan><tspan dy="3.12"> (injured)</tspan></text>
<circle cx="185.2" cy="345.3" r="3.1" fill="#f8c88c"/>
<text x="191.6" y="346.8" font-size="7.8" fill="#333"><tspan font-style="italic">proc</tspan><tspan font-size="5.30" dy="-3.12">−/−</tspan><tspan dy="3.12"></tspan></text>
<circle cx="185.2" cy="360.6" r="3.1" fill="#d87070"/>
<text x="191.6" y="362.1" font-size="7.8" fill="#333"><tspan font-style="italic">proc</tspan><tspan font-size="5.30" dy="-3.12">+/+</tspan><tspan dy="3.12"></tspan></text>
<rect x="264.0" y="324.6" width="63.8" height="14.2" fill="#ebebeb"/>
<rect x="331.4" y="324.6" width="41.8" height="14.2" fill="#ebebeb"/>
<rect x="376.8" y="324.6" width="42.8" height="14.2" fill="#ebebeb"/>
<rect x="423.2" y="324.6" width="39.3" height="14.2" fill="#ebebeb"/>
<rect x="466.1" y="324.6" width="45.0" height="14.2" fill="#ebebeb"/>
<path d="M262.2 295.1H512.9V358.2H262.2Z M262.2 322.6H512.9 M262.2 340.7H512.9 M329.6 295.1V358.2 M421.4 295.1V358.2 M375.0 322.6V358.2 M464.3 322.6V358.2" stroke="#2a2a2a" stroke-width="1.5" fill="none"/>
<text x="295.9" y="313.6" font-size="9.4" text-anchor="middle" fill="#222">genes</text>
<text x="336.7" y="313.4" font-size="9.4" fill="#222"><tspan font-style="italic">proc</tspan><tspan font-size="8.46" dx="0.6" dy="-2.35">+/+</tspan><tspan dy="2.35"> vs </tspan><tspan font-style="italic">proc</tspan><tspan font-size="8.46" dx="0.6" dy="-2.35">−/−</tspan></text>
<text x="428.2" y="309.2" font-size="9.4" fill="#222"><tspan font-style="italic">proc</tspan><tspan font-size="8.46" dx="0.6" dy="-2.35">+/+</tspan><tspan dy="2.35"> vs </tspan><tspan font-style="italic">proc</tspan><tspan font-size="8.46" dx="0.6" dy="-2.35">−/−</tspan></text>
<text x="466.7" y="317.3" font-size="7.6" text-anchor="middle" fill="#222">(injured)</text>
<text x="295.4" y="334.4" font-size="8.2" text-anchor="middle" fill="#222">downregulated</text>
<text x="295.4" y="351.9" font-size="8.2" text-anchor="middle" fill="#222">upregulated</text>
<text x="353.3" y="334.6" font-size="8.8" text-anchor="middle" fill="#222">1506</text>
<text x="396.2" y="334.6" font-size="8.8" text-anchor="middle" fill="#222">182</text>
<text x="440.6" y="334.6" font-size="8.8" text-anchor="middle" fill="#222">1891</text>
<text x="490.4" y="334.6" font-size="8.8" text-anchor="middle" fill="#222">174</text>
<text x="353.3" y="352.1" font-size="8.8" text-anchor="middle" fill="#222">1511</text>
<text x="396.2" y="352.1" font-size="8.8" text-anchor="middle" fill="#222">182</text>
<text x="440.6" y="352.1" font-size="8.8" text-anchor="middle" fill="#222">1779</text>
<text x="490.4" y="352.1" font-size="8.8" text-anchor="middle" fill="#222">139</text>
<path d="M41.8 460.6H201.8" stroke="#111" stroke-width="1.2"/>
<rect x="49.8" y="457.3" width="3.6000000000000014" height="7.0" fill="#fff" stroke="#111" stroke-width="0.9"/>
<rect x="53.4" y="457.3" width="26.800000000000004" height="7.0" fill="#d0102c" stroke="#3a0a10" stroke-width="0.9"/>
<rect x="88.2" y="457.3" width="9.200000000000003" height="7.0" fill="#d0102c" stroke="#3a0a10" stroke-width="0.9"/>
<rect x="100" y="457.3" width="8.799999999999997" height="7.0" fill="#d0102c" stroke="#3a0a10" stroke-width="0.9"/>
<rect x="115" y="457.3" width="5.5" height="7.0" fill="#d0102c" stroke="#3a0a10" stroke-width="0.9"/>
<rect x="127" y="457.3" width="11.800000000000011" height="7.0" fill="#d0102c" stroke="#3a0a10" stroke-width="0.9"/>
<rect x="155" y="457.3" width="4" height="7.0" fill="#d0102c" stroke="#3a0a10" stroke-width="0.9"/>
<rect x="163.8" y="457.3" width="23.19999999999999" height="7.0" fill="#d0102c" stroke="#3a0a10" stroke-width="0.9"/>
<path d="M56.4 452.0H60.0L58.2 455.6Z" fill="#1f4a68"/>
<path d="M73.5 452.0H77.1L75.3 455.6Z" fill="#1f4a68"/>
<path d="M90.3 452.0H93.9L92.1 455.6Z" fill="#1f4a68"/>
<path d="M117.0 452.0H120.6L118.8 455.6Z" fill="#1f4a68"/>
<text x="50.0" y="446.6" font-size="10" font-style="italic" fill="#2f5078">adgrf7</text>
<path d="M53.7 487.5V597.4H219.7 M50.7 597.40H53.7 M52.1 588.47H53.7 M52.1 579.53H53.7 M50.7 570.60H53.7 M52.1 561.67H53.7 M52.1 552.74H53.7 M50.7 543.80H53.7 M52.1 534.87H53.7 M52.1 525.94H53.7 M50.7 517.00H53.7 M52.1 508.07H53.7 M52.1 499.14H53.7 M50.7 490.20H53.7 M77 597.4V600.6 M116.6 597.4V600.6 M156.2 597.4V600.6 M196.2 597.4V600.6" stroke="#1a1a1a" stroke-width="1.3" fill="none"/>
<text x="47.2" y="600.1" font-size="7.8" text-anchor="end" fill="#222">0</text>
<text x="47.2" y="573.3" font-size="7.8" text-anchor="end" fill="#222">30</text>
<text x="47.2" y="546.5" font-size="7.8" text-anchor="end" fill="#222">60</text>
<text x="47.2" y="519.7" font-size="7.8" text-anchor="end" fill="#222">90</text>
<text x="47.2" y="492.9" font-size="7.8" text-anchor="end" fill="#222">120</text>
<text transform="translate(27.0 542.6) rotate(-90)" font-size="9.3" font-weight="bold" text-anchor="middle" fill="#222" textLength="29.8" lengthAdjust="spacingAndGlyphs">TTO (sec)</text>
<path d="M75.8 508.5H118.5" stroke="#111" stroke-width="1"/>
<text x="96.5" y="503.8" font-size="8.2" text-anchor="middle" fill="#222"><tspan font-style="italic">P</tspan> &lt; .0001</text>
<text transform="translate(80.2 607.0) rotate(-45)" font-size="8.2" text-anchor="end" fill="#222">proc<tspan font-size="6.40" dy="-2.95">+/+</tspan><tspan dy="2.95"> uninjected</tspan></text>
<text transform="translate(119.8 607.0) rotate(-45)" font-size="8.2" text-anchor="end" fill="#222">proc<tspan font-size="6.40" dy="-2.95">+/+</tspan><tspan dy="2.95"> injected</tspan></text>
<text transform="translate(159.4 607.0) rotate(-45)" font-size="8.2" text-anchor="end" fill="#222">proc<tspan font-size="6.40" dy="-2.95">−/−</tspan><tspan dy="2.95"> uninjected</tspan></text>
<text transform="translate(199.4 607.0) rotate(-45)" font-size="8.2" text-anchor="end" fill="#222">proc<tspan font-size="6.40" dy="-2.95">−/−</tspan><tspan dy="2.95"> injected</tspan></text>
<text x="49.0" y="665.6" font-size="8.2" text-anchor="middle" fill="#222">n =</text>
<text x="76.5" y="665.6" font-size="8.2" text-anchor="middle" fill="#222">34</text>
<text x="117" y="665.6" font-size="8.2" text-anchor="middle" fill="#222">37</text>
<text x="156.5" y="665.6" font-size="8.2" text-anchor="middle" fill="#222">35</text>
<text x="196.5" y="665.6" font-size="8.2" text-anchor="middle" fill="#222">33</text>
<path d="M156.2 481.5H196.6" stroke="#111" stroke-width="1"/>
<text x="176.3" y="478.4" font-size="8.2" text-anchor="middle" fill="#222"><tspan font-style="italic">P</tspan> &lt; .005</text>
<circle cx="70.4" cy="576.4" r="1.9" fill="none" stroke="#c8102e" stroke-width="1.3"/><circle cx="73.8" cy="577.6" r="1.9" fill="none" stroke="#c8102e" stroke-width="1.3"/><circle cx="77.2" cy="578.3" r="1.9" fill="none" stroke="#c8102e" stroke-width="1.3"/><circle cx="80.6" cy="578.8" r="1.9" fill="none" stroke="#c8102e" stroke-width="1.3"/><circle cx="84.0" cy="579.2" r="1.9" fill="none" stroke="#c8102e" stroke-width="1.3"/><circle cx="66.7" cy="579.6" r="1.9" fill="none" stroke="#c8102e" stroke-width="1.3"/><circle cx="68.3" cy="579.9" r="1.9" fill="none" stroke="#c8102e" stroke-width="1.3"/><circle cx="69.9" cy="580.1" r="1.9" fill="none" stroke="#c8102e" stroke-width="1.3"/><circle cx="71.5" cy="580.4" r="1.9" fill="none" stroke="#c8102e" stroke-width="1.3"/><circle cx="73.2" cy="580.6" r="1.9" fill="none" stroke="#c8102e" stroke-width="1.3"/><circle cx="74.8" cy="580.9" r="1.9" fill="none" stroke="#c8102e" stroke-width="1.3"/><circle cx="76.4" cy="581.1" r="1.9" fill="none" stroke="#c8102e" stroke-width="1.3"/><circle cx="78.0" cy="581.3" r="1.9" fill="none" stroke="#c8102e" stroke-width="1.3"/><circle cx="79.6" cy="581.5" r="1.9" fill="none" stroke="#c8102e" stroke-width="1.3"/><circle cx="81.2" cy="581.7" r="1.9" fill="none" stroke="#c8102e" stroke-width="1.3"/><circle cx="82.9" cy="581.9" r="1.9" fill="none" stroke="#c8102e" stroke-width="1.3"/><circle cx="84.5" cy="582.1" r="1.9" fill="none" stroke="#c8102e" stroke-width="1.3"/><circle cx="86.1" cy="582.3" r="1.9" fill="none" stroke="#c8102e" stroke-width="1.3"/><circle cx="87.7" cy="582.5" r="1.9" fill="none" stroke="#c8102e" stroke-width="1.3"/><circle cx="66.7" cy="582.7" r="1.9" fill="none" stroke="#c8102e" stroke-width="1.3"/><circle cx="68.6" cy="582.9" r="1.9" fill="none" stroke="#c8102e" stroke-width="1.3"/><circle cx="70.5" cy="583.1" r="1.9" fill="none" stroke="#c8102e" stroke-width="1.3"/><circle cx="72.4" cy="583.3" r="1.9" fill="none" stroke="#c8102e" stroke-width="1.3"/><circle cx="74.3" cy="583.6" r="1.9" fill="none" stroke="#c8102e" stroke-width="1.3"/><circle cx="76.2" cy="583.8" r="1.9" fill="none" stroke="#c8102e" stroke-width="1.3"/><circle cx="78.2" cy="584.0" r="1.9" fill="none" stroke="#c8102e" stroke-width="1.3"/><circle cx="80.1" cy="584.3" r="1.9" fill="none" stroke="#c8102e" stroke-width="1.3"/><circle cx="82.0" cy="584.6" r="1.9" fill="none" stroke="#c8102e" stroke-width="1.3"/><circle cx="83.9" cy="584.9" r="1.9" fill="none" stroke="#c8102e" stroke-width="1.3"/><circle cx="85.8" cy="585.2" r="1.9" fill="none" stroke="#c8102e" stroke-width="1.3"/><circle cx="87.7" cy="585.6" r="1.9" fill="none" stroke="#c8102e" stroke-width="1.3"/><circle cx="73.8" cy="586.1" r="1.9" fill="none" stroke="#c8102e" stroke-width="1.3"/><circle cx="77.2" cy="586.8" r="1.9" fill="none" stroke="#c8102e" stroke-width="1.3"/><circle cx="80.6" cy="588.0" r="1.9" fill="none" stroke="#c8102e" stroke-width="1.3"/>
<path d="M65.2 582.4H89.2M77.2 582.4V582.4" stroke="#3a0810" stroke-width="1.3" fill="none"/>
<circle cx="116.5" cy="560.3" r="1.9" fill="none" stroke="#c8102e" stroke-width="1.3"/><circle cx="114.8" cy="566.6" r="1.9" fill="none" stroke="#c8102e" stroke-width="1.3"/><circle cx="118.2" cy="568.8" r="1.9" fill="none" stroke="#c8102e" stroke-width="1.3"/><circle cx="107.8" cy="570.0" r="1.9" fill="none" stroke="#c8102e" stroke-width="1.3"/><circle cx="111.2" cy="570.8" r="1.9" fill="none" stroke="#c8102e" stroke-width="1.3"/><circle cx="114.8" cy="571.5" r="1.9" fill="none" stroke="#c8102e" stroke-width="1.3"/><circle cx="118.2" cy="572.1" r="1.9" fill="none" stroke="#c8102e" stroke-width="1.3"/><circle cx="121.8" cy="572.6" r="1.9" fill="none" stroke="#c8102e" stroke-width="1.3"/><circle cx="125.2" cy="573.1" r="1.9" fill="none" stroke="#c8102e" stroke-width="1.3"/><circle cx="106.0" cy="573.5" r="1.9" fill="none" stroke="#c8102e" stroke-width="1.3"/><circle cx="108.6" cy="573.9" r="1.9" fill="none" stroke="#c8102e" stroke-width="1.3"/><circle cx="111.2" cy="574.3" r="1.9" fill="none" stroke="#c8102e" stroke-width="1.3"/><circle cx="113.9" cy="574.7" r="1.9" fill="none" stroke="#c8102e" stroke-width="1.3"/><circle cx="116.5" cy="575.0" r="1.9" fill="none" stroke="#c8102e" stroke-width="1.3"/><circle cx="119.1" cy="575.4" r="1.9" fill="none" stroke="#c8102e" stroke-width="1.3"/><circle cx="121.8" cy="575.7" r="1.9" fill="none" stroke="#c8102e" stroke-width="1.3"/><circle cx="124.4" cy="576.0" r="1.9" fill="none" stroke="#c8102e" stroke-width="1.3"/><circle cx="127.0" cy="576.4" r="1.9" fill="none" stroke="#c8102e" stroke-width="1.3"/><circle cx="106.0" cy="576.7" r="1.9" fill="none" stroke="#c8102e" stroke-width="1.3"/><circle cx="108.3" cy="577.0" r="1.9" fill="none" stroke="#c8102e" stroke-width="1.3"/><circle cx="110.7" cy="577.3" r="1.9" fill="none" stroke="#c8102e" stroke-width="1.3"/><circle cx="113.0" cy="577.7" r="1.9" fill="none" stroke="#c8102e" stroke-width="1.3"/><circle cx="115.3" cy="578.0" r="1.9" fill="none" stroke="#c8102e" stroke-width="1.3"/><circle cx="117.7" cy="578.3" r="1.9" fill="none" stroke="#c8102e" stroke-width="1.3"/><circle cx="120.0" cy="578.7" r="1.9" fill="none" stroke="#c8102e" stroke-width="1.3"/><circle cx="122.3" cy="579.0" r="1.9" fill="none" stroke="#c8102e" stroke-width="1.3"/><circle cx="124.7" cy="579.4" r="1.9" fill="none" stroke="#c8102e" stroke-width="1.3"/><circle cx="127.0" cy="579.8" r="1.9" fill="none" stroke="#c8102e" stroke-width="1.3"/><circle cx="107.8" cy="580.2" r="1.9" fill="none" stroke="#c8102e" stroke-width="1.3"/><circle cx="111.2" cy="580.6" r="1.9" fill="none" stroke="#c8102e" stroke-width="1.3"/><circle cx="114.8" cy="581.1" r="1.9" fill="none" stroke="#c8102e" stroke-width="1.3"/><circle cx="118.2" cy="581.6" r="1.9" fill="none" stroke="#c8102e" stroke-width="1.3"/><circle cx="121.8" cy="582.2" r="1.9" fill="none" stroke="#c8102e" stroke-width="1.3"/><circle cx="125.2" cy="582.9" r="1.9" fill="none" stroke="#c8102e" stroke-width="1.3"/><circle cx="113.0" cy="583.7" r="1.9" fill="none" stroke="#c8102e" stroke-width="1.3"/><circle cx="116.5" cy="584.0" r="1.9" fill="none" stroke="#c8102e" stroke-width="1.3"/><circle cx="120.0" cy="584.0" r="1.9" fill="none" stroke="#c8102e" stroke-width="1.3"/>
<path d="M104.5 577.3H128.5M116.5 577.3V577.3" stroke="#3a0810" stroke-width="1.3" fill="none"/>
<circle cx="146.4" cy="490.2" r="1.8" fill="none" stroke="#d9857a" stroke-width="1.0"/><circle cx="149.7" cy="490.2" r="1.8" fill="none" stroke="#d9857a" stroke-width="1.0"/><circle cx="153.1" cy="490.2" r="1.8" fill="none" stroke="#d9857a" stroke-width="1.0"/><circle cx="156.4" cy="490.2" r="1.8" fill="none" stroke="#d9857a" stroke-width="1.0"/><circle cx="159.7" cy="490.2" r="1.8" fill="none" stroke="#d9857a" stroke-width="1.0"/><circle cx="163.1" cy="490.2" r="1.8" fill="none" stroke="#d9857a" stroke-width="1.0"/><circle cx="166.4" cy="490.2" r="1.8" fill="none" stroke="#d9857a" stroke-width="1.0"/><circle cx="156.6" cy="525.8" r="1.8" fill="none" stroke="#d9857a" stroke-width="1.0"/><circle cx="153.0" cy="531.6" r="1.8" fill="none" stroke="#d9857a" stroke-width="1.0"/><circle cx="159.7" cy="533.0" r="1.8" fill="none" stroke="#d9857a" stroke-width="1.0"/><circle cx="153.0" cy="537.3" r="1.8" fill="none" stroke="#d9857a" stroke-width="1.0"/><circle cx="159.7" cy="537.3" r="1.8" fill="none" stroke="#d9857a" stroke-width="1.0"/><circle cx="155.9" cy="540.7" r="1.8" fill="none" stroke="#d9857a" stroke-width="1.0"/><circle cx="153.0" cy="547.9" r="1.8" fill="none" stroke="#d9857a" stroke-width="1.0"/><circle cx="159.7" cy="549.4" r="1.8" fill="none" stroke="#d9857a" stroke-width="1.0"/><circle cx="156.4" cy="546.5" r="1.8" fill="none" stroke="#d9857a" stroke-width="1.0"/><circle cx="146.7" cy="559.0" r="1.8" fill="none" stroke="#d9857a" stroke-width="1.0"/><circle cx="153.5" cy="560.0" r="1.8" fill="none" stroke="#d9857a" stroke-width="1.0"/><circle cx="163.1" cy="560.0" r="1.8" fill="none" stroke="#d9857a" stroke-width="1.0"/><circle cx="166.5" cy="559.0" r="1.8" fill="none" stroke="#d9857a" stroke-width="1.0"/><circle cx="150.1" cy="562.4" r="1.8" fill="none" stroke="#d9857a" stroke-width="1.0"/><circle cx="160.0" cy="562.4" r="1.8" fill="none" stroke="#d9857a" stroke-width="1.0"/><circle cx="153.5" cy="564.8" r="1.8" fill="none" stroke="#d9857a" stroke-width="1.0"/><circle cx="156.9" cy="564.3" r="1.8" fill="none" stroke="#d9857a" stroke-width="1.0"/><circle cx="149.6" cy="567.2" r="1.8" fill="none" stroke="#d9857a" stroke-width="1.0"/><circle cx="159.7" cy="566.7" r="1.8" fill="none" stroke="#d9857a" stroke-width="1.0"/><circle cx="153.0" cy="568.7" r="1.8" fill="none" stroke="#d9857a" stroke-width="1.0"/><circle cx="156.4" cy="568.2" r="1.8" fill="none" stroke="#d9857a" stroke-width="1.0"/><circle cx="149.6" cy="570.6" r="1.8" fill="none" stroke="#d9857a" stroke-width="1.0"/><circle cx="153.5" cy="572.5" r="1.8" fill="none" stroke="#d9857a" stroke-width="1.0"/><circle cx="156.9" cy="572.0" r="1.8" fill="none" stroke="#d9857a" stroke-width="1.0"/><circle cx="160.2" cy="574.0" r="1.8" fill="none" stroke="#d9857a" stroke-width="1.0"/><circle cx="163.6" cy="572.5" r="1.8" fill="none" stroke="#d9857a" stroke-width="1.0"/><circle cx="156.4" cy="577.8" r="1.8" fill="none" stroke="#d9857a" stroke-width="1.0"/><circle cx="146.5" cy="563.5" r="1.8" fill="none" stroke="#d9857a" stroke-width="1.0"/>
<path d="M145.1 553.5H167.70000000000002M151.1 561.4H161.70000000000002M151.1 537.3H161.70000000000002M156.4 537.3V561.4" stroke="#222" stroke-width="1.1" fill="none"/>
<rect x="184.0" y="487.9" width="24.4" height="4.6" rx="2.3" fill="#d9857a"/>
<circle cx="196.3" cy="521.8" r="1.8" fill="none" stroke="#d9857a" stroke-width="1.0"/><circle cx="196.3" cy="537.6" r="1.8" fill="none" stroke="#d9857a" stroke-width="1.0"/><circle cx="196.3" cy="541.0" r="1.8" fill="none" stroke="#d9857a" stroke-width="1.0"/><circle cx="196.3" cy="548.6" r="1.8" fill="none" stroke="#d9857a" stroke-width="1.0"/><circle cx="196.3" cy="554.4" r="1.8" fill="none" stroke="#d9857a" stroke-width="1.0"/><circle cx="196.3" cy="559.2" r="1.8" fill="none" stroke="#d9857a" stroke-width="1.0"/><circle cx="196.3" cy="562.2" r="1.8" fill="none" stroke="#d9857a" stroke-width="1.0"/><circle cx="195.6" cy="569.6" r="1.8" fill="none" stroke="#d9857a" stroke-width="1.0"/><circle cx="197.0" cy="570.8" r="1.8" fill="none" stroke="#d9857a" stroke-width="1.0"/><circle cx="196.0" cy="545.2" r="1.8" fill="none" stroke="#d9857a" stroke-width="1.0"/>
<circle cx="196.3" cy="508.8" r="3.4" fill="#d9857a"/>
<path d="M184.8 508.8H207.8M190.5 545.6H202.10000000000002M196.3 508.8V545.6" stroke="#222" stroke-width="1.1" fill="none"/>
<path d="M196.3 492.6V509" stroke="#222" stroke-width="1.1"/>
<path d="M274.6 460.6H439.2" stroke="#111" stroke-width="1.2"/>
<rect x="293.3" y="457.3" width="3.8999999999999773" height="7.0" fill="#fff" stroke="#111" stroke-width="0.9"/>
<rect x="297.2" y="457.3" width="22.600000000000023" height="7.0" fill="#d0102c" stroke="#3a0a10" stroke-width="0.9"/>
<rect x="328.4" y="457.3" width="31.0" height="7.0" fill="#d0102c" stroke="#3a0a10" stroke-width="0.9"/>
<rect x="369.2" y="457.3" width="11.100000000000023" height="7.0" fill="#d0102c" stroke="#3a0a10" stroke-width="0.9"/>
<rect x="396" y="457.3" width="27.80000000000001" height="7.0" fill="#d0102c" stroke="#3a0a10" stroke-width="0.9"/>
<path d="M303.4 452.0H307.0L305.2 455.6Z" fill="#1f4a68"/>
<path d="M351.4 452.0H355.0L353.2 455.6Z" fill="#1f4a68"/>
<path d="M413.2 452.0H416.8L415.0 455.6Z" fill="#1f4a68"/>
<text x="294.2" y="446.6" font-size="10" font-style="italic" fill="#2f5078">serpina10b</text>
<path d="M282.9 487.5V597.4H449.7 M279.9 597.40H282.9 M281.3 588.47H282.9 M281.3 579.53H282.9 M279.9 570.60H282.9 M281.3 561.67H282.9 M281.3 552.74H282.9 M279.9 543.80H282.9 M281.3 534.87H282.9 M281.3 525.94H282.9 M279.9 517.00H282.9 M281.3 508.07H282.9 M281.3 499.14H282.9 M279.9 490.20H282.9 M307 597.4V600.6 M346.6 597.4V600.6 M386.2 597.4V600.6 M426.2 597.4V600.6" stroke="#1a1a1a" stroke-width="1.3" fill="none"/>
<text x="277.2" y="600.1" font-size="7.8" text-anchor="end" fill="#222">0</text>
<text x="277.2" y="573.3" font-size="7.8" text-anchor="end" fill="#222">30</text>
<text x="277.2" y="546.5" font-size="7.8" text-anchor="end" fill="#222">60</text>
<text x="277.2" y="519.7" font-size="7.8" text-anchor="end" fill="#222">90</text>
<text x="277.2" y="492.9" font-size="7.8" text-anchor="end" fill="#222">120</text>
<text transform="translate(257.0 542.6) rotate(-90)" font-size="9.3" font-weight="bold" text-anchor="middle" fill="#222" textLength="29.8" lengthAdjust="spacingAndGlyphs">TTO (sec)</text>
<path d="M306.5 490.5H342" stroke="#111" stroke-width="1"/>
<text x="324.2" y="487.0" font-size="8.2" text-anchor="middle" fill="#222"><tspan font-style="italic">P</tspan> &lt; .05</text>
<text transform="translate(310.2 607.0) rotate(-45)" font-size="8.2" text-anchor="end" fill="#222">proc<tspan font-size="6.40" dy="-2.95">+/+</tspan><tspan dy="2.95"> uninjected</tspan></text>
<text transform="translate(349.8 607.0) rotate(-45)" font-size="8.2" text-anchor="end" fill="#222">proc<tspan font-size="6.40" dy="-2.95">+/+</tspan><tspan dy="2.95"> injected</tspan></text>
<text transform="translate(389.4 607.0) rotate(-45)" font-size="8.2" text-anchor="end" fill="#222">proc<tspan font-size="6.40" dy="-2.95">−/−</tspan><tspan dy="2.95"> uninjected</tspan></text>
<text transform="translate(429.4 607.0) rotate(-45)" font-size="8.2" text-anchor="end" fill="#222">proc<tspan font-size="6.40" dy="-2.95">−/−</tspan><tspan dy="2.95"> injected</tspan></text>
<text x="279.0" y="665.6" font-size="8.2" text-anchor="middle" fill="#222">n =</text>
<text x="306.5" y="665.6" font-size="8.2" text-anchor="middle" fill="#222">28</text>
<text x="347" y="665.6" font-size="8.2" text-anchor="middle" fill="#222">50</text>
<text x="386.5" y="665.6" font-size="8.2" text-anchor="middle" fill="#222">38</text>
<text x="426.5" y="665.6" font-size="8.2" text-anchor="middle" fill="#222">27</text>
<circle cx="307.0" cy="576.0" r="1.9" fill="none" stroke="#c8102e" stroke-width="1.3"/><circle cx="296.8" cy="584.9" r="1.9" fill="none" stroke="#c8102e" stroke-width="1.3"/><circle cx="300.2" cy="585.9" r="1.9" fill="none" stroke="#c8102e" stroke-width="1.3"/><circle cx="303.6" cy="586.5" r="1.9" fill="none" stroke="#c8102e" stroke-width="1.3"/><circle cx="307.0" cy="586.9" r="1.9" fill="none" stroke="#c8102e" stroke-width="1.3"/><circle cx="310.4" cy="587.3" r="1.9" fill="none" stroke="#c8102e" stroke-width="1.3"/><circle cx="313.8" cy="587.6" r="1.9" fill="none" stroke="#c8102e" stroke-width="1.3"/><circle cx="317.2" cy="587.9" r="1.9" fill="none" stroke="#c8102e" stroke-width="1.3"/><circle cx="296.5" cy="588.1" r="1.9" fill="none" stroke="#c8102e" stroke-width="1.3"/><circle cx="298.0" cy="588.3" r="1.9" fill="none" stroke="#c8102e" stroke-width="1.3"/><circle cx="299.5" cy="588.5" r="1.9" fill="none" stroke="#c8102e" stroke-width="1.3"/><circle cx="301.0" cy="588.8" r="1.9" fill="none" stroke="#c8102e" stroke-width="1.3"/><circle cx="302.5" cy="589.0" r="1.9" fill="none" stroke="#c8102e" stroke-width="1.3"/><circle cx="304.0" cy="589.2" r="1.9" fill="none" stroke="#c8102e" stroke-width="1.3"/><circle cx="305.5" cy="589.4" r="1.9" fill="none" stroke="#c8102e" stroke-width="1.3"/><circle cx="307.0" cy="589.6" r="1.9" fill="none" stroke="#c8102e" stroke-width="1.3"/><circle cx="308.5" cy="589.8" r="1.9" fill="none" stroke="#c8102e" stroke-width="1.3"/><circle cx="310.0" cy="590.0" r="1.9" fill="none" stroke="#c8102e" stroke-width="1.3"/><circle cx="311.5" cy="590.2" r="1.9" fill="none" stroke="#c8102e" stroke-width="1.3"/><circle cx="313.0" cy="590.4" r="1.9" fill="none" stroke="#c8102e" stroke-width="1.3"/><circle cx="314.5" cy="590.6" r="1.9" fill="none" stroke="#c8102e" stroke-width="1.3"/><circle cx="316.0" cy="590.9" r="1.9" fill="none" stroke="#c8102e" stroke-width="1.3"/><circle cx="317.5" cy="591.1" r="1.9" fill="none" stroke="#c8102e" stroke-width="1.3"/><circle cx="300.2" cy="591.4" r="1.9" fill="none" stroke="#c8102e" stroke-width="1.3"/><circle cx="303.6" cy="591.8" r="1.9" fill="none" stroke="#c8102e" stroke-width="1.3"/><circle cx="307.0" cy="592.2" r="1.9" fill="none" stroke="#c8102e" stroke-width="1.3"/><circle cx="310.4" cy="592.2" r="1.9" fill="none" stroke="#c8102e" stroke-width="1.3"/><circle cx="313.8" cy="592.2" r="1.9" fill="none" stroke="#c8102e" stroke-width="1.3"/>
<path d="M295 589.5H319M307 589.5V589.5" stroke="#3a0810" stroke-width="1.3" fill="none"/>
<circle cx="346.2" cy="554.5" r="1.9" fill="none" stroke="#c8102e" stroke-width="1.3"/><circle cx="346.2" cy="565.2" r="1.9" fill="none" stroke="#c8102e" stroke-width="1.3"/><circle cx="346.2" cy="575.5" r="1.9" fill="none" stroke="#c8102e" stroke-width="1.3"/><circle cx="344.5" cy="579.6" r="1.9" fill="none" stroke="#c8102e" stroke-width="1.3"/><circle cx="347.9" cy="582.3" r="1.9" fill="none" stroke="#c8102e" stroke-width="1.3"/><circle cx="342.8" cy="583.6" r="1.9" fill="none" stroke="#c8102e" stroke-width="1.3"/><circle cx="346.2" cy="585.9" r="1.9" fill="none" stroke="#c8102e" stroke-width="1.3"/><circle cx="349.6" cy="586.1" r="1.9" fill="none" stroke="#c8102e" stroke-width="1.3"/><circle cx="335.7" cy="586.8" r="1.9" fill="none" stroke="#c8102e" stroke-width="1.3"/><circle cx="337.2" cy="587.6" r="1.9" fill="none" stroke="#c8102e" stroke-width="1.3"/><circle cx="338.7" cy="587.7" r="1.9" fill="none" stroke="#c8102e" stroke-width="1.3"/><circle cx="340.2" cy="588.3" r="1.9" fill="none" stroke="#c8102e" stroke-width="1.3"/><circle cx="341.7" cy="588.4" r="1.9" fill="none" stroke="#c8102e" stroke-width="1.3"/><circle cx="343.2" cy="588.5" r="1.9" fill="none" stroke="#c8102e" stroke-width="1.3"/><circle cx="344.7" cy="588.9" r="1.9" fill="none" stroke="#c8102e" stroke-width="1.3"/><circle cx="346.2" cy="589.2" r="1.9" fill="none" stroke="#c8102e" stroke-width="1.3"/><circle cx="347.7" cy="589.2" r="1.9" fill="none" stroke="#c8102e" stroke-width="1.3"/><circle cx="349.2" cy="589.2" r="1.9" fill="none" stroke="#c8102e" stroke-width="1.3"/><circle cx="350.7" cy="589.3" r="1.9" fill="none" stroke="#c8102e" stroke-width="1.3"/><circle cx="352.2" cy="589.4" r="1.9" fill="none" stroke="#c8102e" stroke-width="1.3"/><circle cx="353.7" cy="589.4" r="1.9" fill="none" stroke="#c8102e" stroke-width="1.3"/><circle cx="355.2" cy="589.5" r="1.9" fill="none" stroke="#c8102e" stroke-width="1.3"/><circle cx="356.7" cy="589.7" r="1.9" fill="none" stroke="#c8102e" stroke-width="1.3"/><circle cx="335.7" cy="590.5" r="1.9" fill="none" stroke="#c8102e" stroke-width="1.3"/><circle cx="336.7" cy="590.6" r="1.9" fill="none" stroke="#c8102e" stroke-width="1.3"/><circle cx="337.7" cy="590.7" r="1.9" fill="none" stroke="#c8102e" stroke-width="1.3"/><circle cx="338.7" cy="590.9" r="1.9" fill="none" stroke="#c8102e" stroke-width="1.3"/><circle cx="339.7" cy="590.9" r="1.9" fill="none" stroke="#c8102e" stroke-width="1.3"/><circle cx="340.7" cy="591.0" r="1.9" fill="none" stroke="#c8102e" stroke-width="1.3"/><circle cx="341.7" cy="591.3" r="1.9" fill="none" stroke="#c8102e" stroke-width="1.3"/><circle cx="342.7" cy="591.4" r="1.9" fill="none" stroke="#c8102e" stroke-width="1.3"/><circle cx="343.7" cy="591.4" r="1.9" fill="none" stroke="#c8102e" stroke-width="1.3"/><circle cx="344.7" cy="591.5" r="1.9" fill="none" stroke="#c8102e" stroke-width="1.3"/><circle cx="345.7" cy="591.7" r="1.9" fill="none" stroke="#c8102e" stroke-width="1.3"/><circle cx="346.7" cy="591.8" r="1.9" fill="none" stroke="#c8102e" stroke-width="1.3"/><circle cx="347.7" cy="592.0" r="1.9" fill="none" stroke="#c8102e" stroke-width="1.3"/><circle cx="348.7" cy="592.1" r="1.9" fill="none" stroke="#c8102e" stroke-width="1.3"/><circle cx="349.7" cy="592.8" r="1.9" fill="none" stroke="#c8102e" stroke-width="1.3"/><circle cx="350.7" cy="592.8" r="1.9" fill="none" stroke="#c8102e" stroke-width="1.3"/><circle cx="351.7" cy="592.8" r="1.9" fill="none" stroke="#c8102e" stroke-width="1.3"/><circle cx="352.7" cy="592.9" r="1.9" fill="none" stroke="#c8102e" stroke-width="1.3"/><circle cx="353.7" cy="593.0" r="1.9" fill="none" stroke="#c8102e" stroke-width="1.3"/><circle cx="354.7" cy="593.1" r="1.9" fill="none" stroke="#c8102e" stroke-width="1.3"/><circle cx="355.7" cy="593.1" r="1.9" fill="none" stroke="#c8102e" stroke-width="1.3"/><circle cx="356.7" cy="593.3" r="1.9" fill="none" stroke="#c8102e" stroke-width="1.3"/><circle cx="339.4" cy="593.6" r="1.9" fill="none" stroke="#c8102e" stroke-width="1.3"/><circle cx="342.8" cy="593.9" r="1.9" fill="none" stroke="#c8102e" stroke-width="1.3"/><circle cx="346.2" cy="594.2" r="1.9" fill="none" stroke="#c8102e" stroke-width="1.3"/><circle cx="349.6" cy="594.6" r="1.9" fill="none" stroke="#c8102e" stroke-width="1.3"/><circle cx="353.0" cy="594.7" r="1.9" fill="none" stroke="#c8102e" stroke-width="1.3"/>
<path d="M334.2 588.6H358.2M346.2 588.6V588.6" stroke="#3a0810" stroke-width="1.3" fill="none"/>
<circle cx="386.0" cy="527.7" r="1.8" fill="none" stroke="#d9857a" stroke-width="1.0"/><circle cx="382.1" cy="535.8" r="1.8" fill="none" stroke="#d9857a" stroke-width="1.0"/><circle cx="386.0" cy="536.7" r="1.8" fill="none" stroke="#d9857a" stroke-width="1.0"/><circle cx="389.9" cy="537.5" r="1.8" fill="none" stroke="#d9857a" stroke-width="1.0"/><circle cx="382.1" cy="545.6" r="1.8" fill="none" stroke="#d9857a" stroke-width="1.0"/><circle cx="386.0" cy="545.6" r="1.8" fill="none" stroke="#d9857a" stroke-width="1.0"/><circle cx="389.9" cy="547.9" r="1.8" fill="none" stroke="#d9857a" stroke-width="1.0"/><circle cx="382.1" cy="549.6" r="1.8" fill="none" stroke="#d9857a" stroke-width="1.0"/><circle cx="386.0" cy="551.0" r="1.8" fill="none" stroke="#d9857a" stroke-width="1.0"/><circle cx="389.9" cy="552.2" r="1.8" fill="none" stroke="#d9857a" stroke-width="1.0"/><circle cx="380.1" cy="553.3" r="1.8" fill="none" stroke="#d9857a" stroke-width="1.0"/><circle cx="384.1" cy="554.3" r="1.8" fill="none" stroke="#d9857a" stroke-width="1.0"/><circle cx="387.9" cy="555.3" r="1.8" fill="none" stroke="#d9857a" stroke-width="1.0"/><circle cx="391.9" cy="556.2" r="1.8" fill="none" stroke="#d9857a" stroke-width="1.0"/><circle cx="378.2" cy="557.0" r="1.8" fill="none" stroke="#d9857a" stroke-width="1.0"/><circle cx="382.1" cy="557.9" r="1.8" fill="none" stroke="#d9857a" stroke-width="1.0"/><circle cx="386.0" cy="558.7" r="1.8" fill="none" stroke="#d9857a" stroke-width="1.0"/><circle cx="389.9" cy="559.5" r="1.8" fill="none" stroke="#d9857a" stroke-width="1.0"/><circle cx="393.8" cy="560.3" r="1.8" fill="none" stroke="#d9857a" stroke-width="1.0"/><circle cx="378.2" cy="561.1" r="1.8" fill="none" stroke="#d9857a" stroke-width="1.0"/><circle cx="382.1" cy="561.9" r="1.8" fill="none" stroke="#d9857a" stroke-width="1.0"/><circle cx="386.0" cy="562.7" r="1.8" fill="none" stroke="#d9857a" stroke-width="1.0"/><circle cx="389.9" cy="563.6" r="1.8" fill="none" stroke="#d9857a" stroke-width="1.0"/><circle cx="393.8" cy="564.5" r="1.8" fill="none" stroke="#d9857a" stroke-width="1.0"/><circle cx="380.1" cy="565.4" r="1.8" fill="none" stroke="#d9857a" stroke-width="1.0"/><circle cx="384.1" cy="566.4" r="1.8" fill="none" stroke="#d9857a" stroke-width="1.0"/><circle cx="387.9" cy="567.5" r="1.8" fill="none" stroke="#d9857a" stroke-width="1.0"/><circle cx="391.9" cy="568.7" r="1.8" fill="none" stroke="#d9857a" stroke-width="1.0"/><circle cx="384.1" cy="570.2" r="1.8" fill="none" stroke="#d9857a" stroke-width="1.0"/><circle cx="387.9" cy="571.9" r="1.8" fill="none" stroke="#d9857a" stroke-width="1.0"/><circle cx="386.0" cy="574.3" r="1.8" fill="none" stroke="#d9857a" stroke-width="1.0"/><circle cx="386.0" cy="578.6" r="1.8" fill="none" stroke="#d9857a" stroke-width="1.0"/><circle cx="378.5" cy="490.2" r="1.8" fill="none" stroke="#d9857a" stroke-width="1.0"/><circle cx="382.2" cy="490.2" r="1.8" fill="none" stroke="#d9857a" stroke-width="1.0"/><circle cx="386.0" cy="490.2" r="1.8" fill="none" stroke="#d9857a" stroke-width="1.0"/><circle cx="389.8" cy="490.2" r="1.8" fill="none" stroke="#d9857a" stroke-width="1.0"/><circle cx="393.5" cy="490.2" r="1.8" fill="none" stroke="#d9857a" stroke-width="1.0"/><circle cx="385.8" cy="497.4" r="1.8" fill="none" stroke="#d9857a" stroke-width="1.0"/>
<path d="M374.4 558.4H397.6M381.0 564.5H391.0M381.0 551.0H391.0M386.0 551.0V564.5" stroke="#222" stroke-width="1.1" fill="none"/>
<circle cx="425.8" cy="534.4" r="1.8" fill="none" stroke="#d9857a" stroke-width="1.0"/><circle cx="421.9" cy="550.1" r="1.8" fill="none" stroke="#d9857a" stroke-width="1.0"/><circle cx="425.8" cy="550.5" r="1.8" fill="none" stroke="#d9857a" stroke-width="1.0"/><circle cx="429.7" cy="552.9" r="1.8" fill="none" stroke="#d9857a" stroke-width="1.0"/><circle cx="421.9" cy="554.7" r="1.8" fill="none" stroke="#d9857a" stroke-width="1.0"/><circle cx="425.8" cy="556.2" r="1.8" fill="none" stroke="#d9857a" stroke-width="1.0"/><circle cx="429.7" cy="557.6" r="1.8" fill="none" stroke="#d9857a" stroke-width="1.0"/><circle cx="419.9" cy="558.8" r="1.8" fill="none" stroke="#d9857a" stroke-width="1.0"/><circle cx="423.9" cy="560.0" r="1.8" fill="none" stroke="#d9857a" stroke-width="1.0"/><circle cx="427.8" cy="561.1" r="1.8" fill="none" stroke="#d9857a" stroke-width="1.0"/><circle cx="431.7" cy="562.2" r="1.8" fill="none" stroke="#d9857a" stroke-width="1.0"/><circle cx="421.9" cy="563.4" r="1.8" fill="none" stroke="#d9857a" stroke-width="1.0"/><circle cx="425.8" cy="564.5" r="1.8" fill="none" stroke="#d9857a" stroke-width="1.0"/><circle cx="429.7" cy="565.8" r="1.8" fill="none" stroke="#d9857a" stroke-width="1.0"/><circle cx="421.9" cy="567.1" r="1.8" fill="none" stroke="#d9857a" stroke-width="1.0"/><circle cx="425.8" cy="568.6" r="1.8" fill="none" stroke="#d9857a" stroke-width="1.0"/><circle cx="429.7" cy="570.4" r="1.8" fill="none" stroke="#d9857a" stroke-width="1.0"/><circle cx="423.9" cy="572.8" r="1.8" fill="none" stroke="#d9857a" stroke-width="1.0"/><circle cx="427.8" cy="576.0" r="1.8" fill="none" stroke="#d9857a" stroke-width="1.0"/><circle cx="415.6" cy="490.2" r="1.8" fill="none" stroke="#d9857a" stroke-width="1.0"/><circle cx="419.0" cy="490.2" r="1.8" fill="none" stroke="#d9857a" stroke-width="1.0"/><circle cx="422.4" cy="490.2" r="1.8" fill="none" stroke="#d9857a" stroke-width="1.0"/><circle cx="425.8" cy="490.2" r="1.8" fill="none" stroke="#d9857a" stroke-width="1.0"/><circle cx="429.2" cy="490.2" r="1.8" fill="none" stroke="#d9857a" stroke-width="1.0"/><circle cx="432.6" cy="490.2" r="1.8" fill="none" stroke="#d9857a" stroke-width="1.0"/><circle cx="436.1" cy="490.2" r="1.8" fill="none" stroke="#d9857a" stroke-width="1.0"/><circle cx="425.8" cy="506.7" r="1.8" fill="none" stroke="#d9857a" stroke-width="1.0"/>
<path d="M414.5 558.8H437.1M420.40000000000003 565.4H431.2M420.40000000000003 529.4H431.2M425.8 529.4V565.4" stroke="#222" stroke-width="1.1" fill="none"/>
</svg>
</body></html>
